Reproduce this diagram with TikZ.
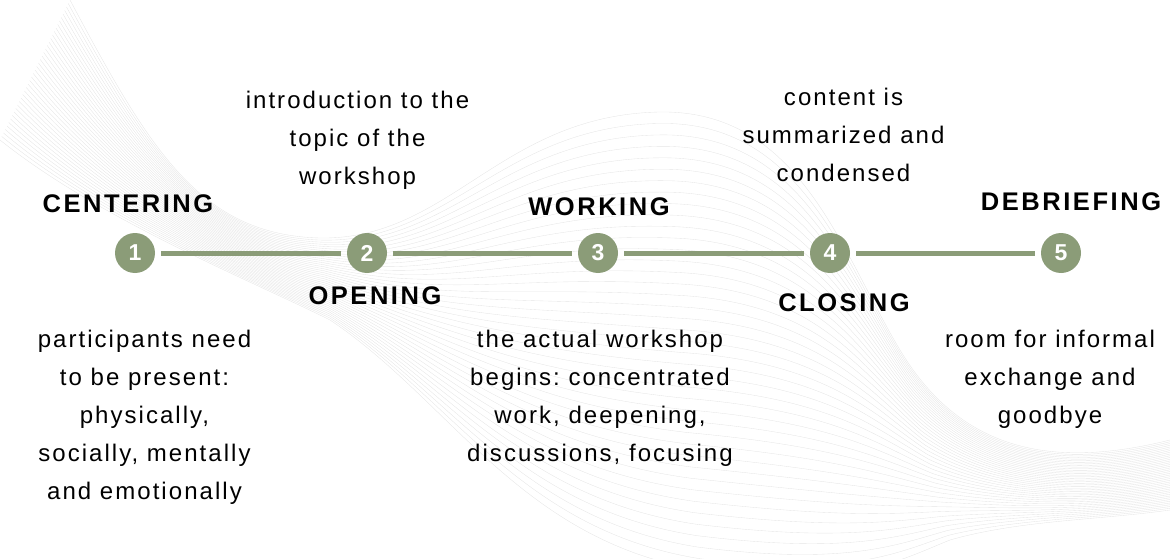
\documentclass[tikz,border=0pt]{standalone}
\usepackage{fontspec}
\setmainfont{Liberation Sans}
\newfontfamily\notefont[LetterSpace=8.5]{Liberation Sans}
\newfontfamily\phasefont[LetterSpace=10]{Liberation Sans}
\definecolor{sage}{RGB}{139,156,120}
\frenchspacing

\begin{document}
\begin{tikzpicture}[
		x=1pt, y=-1pt,
		every node/.style={inner sep=0pt},
		stepdot/.style={circle, fill=sage, minimum size=40pt, outer sep=6pt,
			text=white, font=\bfseries\fontsize{23}{23}\selectfont},
		phase/.style={anchor=base, font=\phasefont\bfseries\fontsize{25.5}{26}\selectfont},
		note/.style={anchor=base, align=center, font=\notefont\fontsize{24}{38}\selectfont},
		link/.style={draw=sage, line width=5pt},
		wave/.style={draw=black!10, line width=0.35pt}
	]
  \useasboundingbox (0,0) rectangle (1170,559);

  % background ribbon of thin lines
  \begin{scope}
    \clip (0,0) rectangle (1170,559);
    \foreach \i in {0,...,40} {
      \pgfmathsetmacro\t{\i/40}
      \draw[wave] ({70-70*\t},{140*\t})
        .. controls ({150-50*\t},{150+70*\t}) and ({200+50*\t},{235+45*\t}) .. ({320+10*\t},{238+82*\t})
        .. controls ({450},{240+160*\t}) and ({500+20*\t},{115+425*\t}) .. ({660+40*\t},{112+458*\t})
        .. controls ({800+50*\t},{110+480*\t}) and ({840+60*\t},{250+310*\t}) .. ({900+50*\t},{350+190*\t})
        .. controls ({960+60*\t},{450+70*\t}) and ({1050+50*\t},{470+50*\t}) .. ({1170},{440+70*\t});
    }
  \end{scope}

  % the five steps
  \node (s1) [stepdot] at (135, 253) {1};
  \node (s2) [stepdot] at (367, 253) {2};
  \node (s3) [stepdot] at (598, 253) {3};
  \node (s4) [stepdot] at (830, 253) {4};
  \node (s5) [stepdot] at (1061, 253) {5};
  \draw[link] (s1) -- (s2);
  \draw[link] (s2) -- (s3);
  \draw[link] (s3) -- (s4);
  \draw[link] (s4) -- (s5);

  % phase names
  \node (centering) [phase] at (128, 212) {CENTERING};
  \node (opening) [phase] at (375, 304) {OPENING};
  \node (working) [phase] at (599, 215) {WORKING};
  \node (closing) [phase] at (844, 311) {CLOSING};
  \node (debriefing) [phase] at (1071, 210) {DEBRIEFING};

  % descriptions (anchored on their last line)
  \node (centering_txt) [note] at (144.5, 499) {participants need\\to be present:\\physically,\\socially, mentally\\and emotionally};
  \node (opening_txt) [note] at (357.5, 184) {introduction to the\\topic of the\\workshop};
  \node (working_txt) [note] at (600, 461) {the actual workshop\\begins: concentrated\\work, deepening,\\discussions, focusing};
  \node (closing_txt) [note] at (843.5, 181) {content is\\summarized and\\condensed};
  \node (debriefing_txt) [note] at (1050, 423) {room for informal\\exchange and\\goodbye};
\end{tikzpicture}
\end{document}
